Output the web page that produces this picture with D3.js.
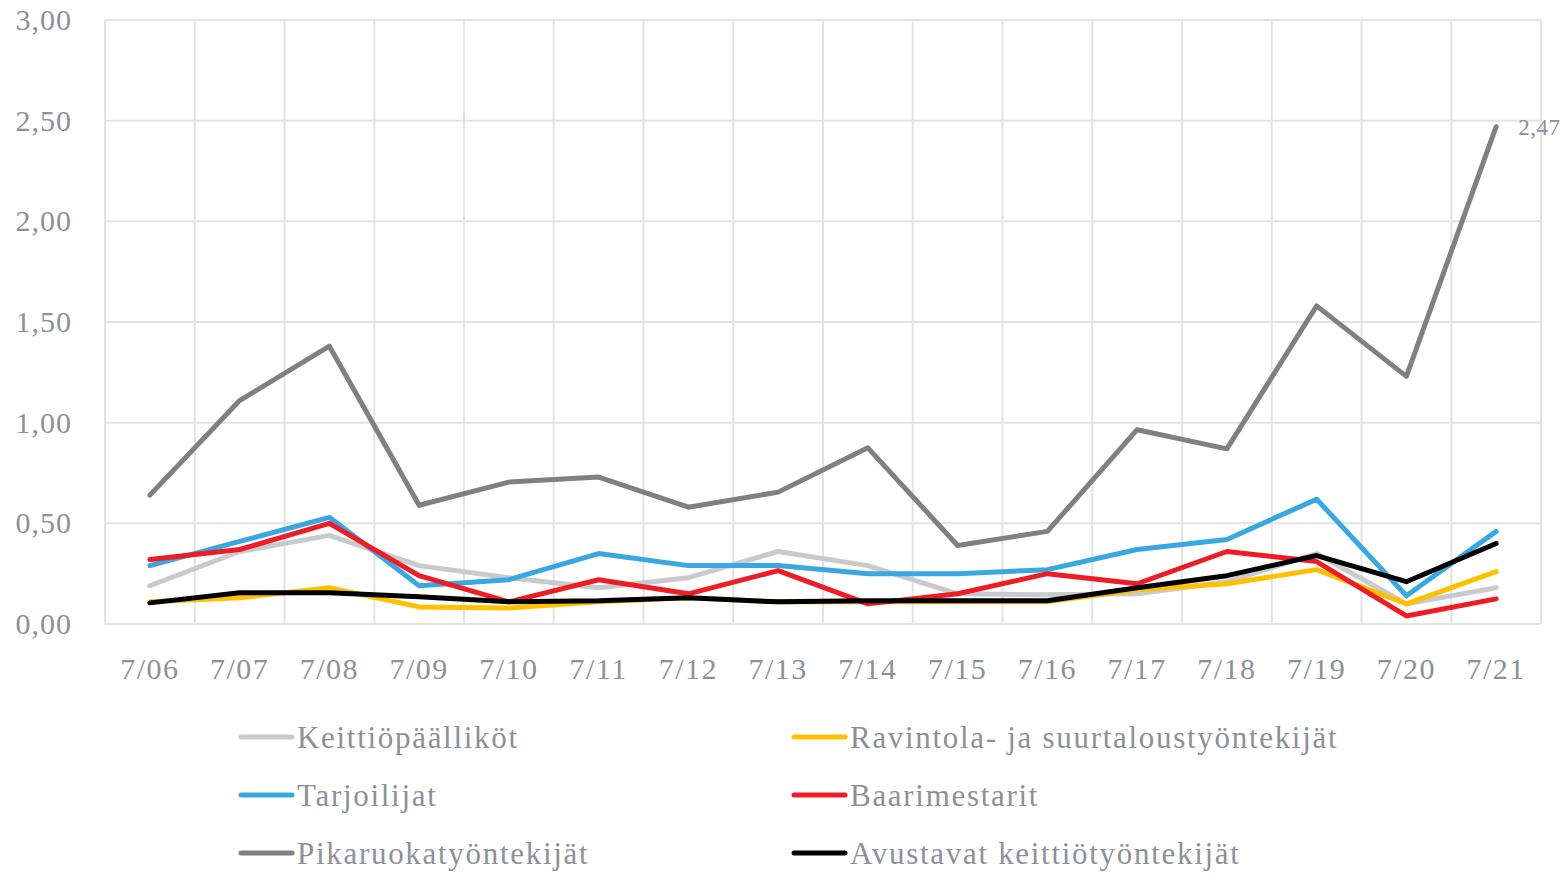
<!DOCTYPE html>
<html>
<head>
<meta charset="utf-8">
<script src="https://cdn.jsdelivr.net/npm/d3@7"></script>
<style>
  body { margin: 0; background: #fff; }
  svg text { font-family: "Palatino Linotype", "Book Antiqua", Palatino, "Liberation Serif", serif; fill: #8d9099; }
</style>
</head>
<body>
<div id="chart"></div>
<script>
const weeks = ["7/06", "7/07", "7/08", "7/09", "7/10", "7/11", "7/12", "7/13",
               "7/14", "7/15", "7/16", "7/17", "7/18", "7/19", "7/20", "7/21"];

const keittiopaallikot = [0.19, 0.36, 0.44, 0.29, 0.23, 0.18, 0.23, 0.36, 0.29, 0.15, 0.145, 0.15, 0.21, 0.35, 0.10, 0.18];
const ravintola = [0.11, 0.13, 0.18, 0.085, 0.08, 0.11, 0.13, 0.11, 0.11, 0.11, 0.11, 0.17, 0.20, 0.27, 0.10, 0.26];
const tarjoilijat = [0.29, 0.41, 0.53, 0.19, 0.22, 0.35, 0.29, 0.29, 0.25, 0.25, 0.27, 0.37, 0.42, 0.62, 0.14, 0.46];
const baarimestarit = [0.32, 0.37, 0.50, 0.24, 0.11, 0.22, 0.15, 0.265, 0.10, 0.15, 0.25, 0.20, 0.36, 0.31, 0.04, 0.125];
const pikaruoka = [0.64, 1.11, 1.38, 0.59, 0.705, 0.73, 0.58, 0.655, 0.875, 0.39, 0.46, 0.965, 0.87, 1.58, 1.23, 2.47];
const avustavat = [0.105, 0.155, 0.155, 0.135, 0.11, 0.115, 0.13, 0.11, 0.115, 0.115, 0.115, 0.18, 0.24, 0.34, 0.21, 0.40];

const series = [
    { name: "Keittiöpäälliköt", values: keittiopaallikot, color: "#c9cace" },
    { name: "Ravintola- ja suurtaloustyöntekijät", values: ravintola, color: "#ffc000" },
    { name: "Tarjoilijat", values: tarjoilijat, color: "#38a7e2" },
    { name: "Baarimestarit", values: baarimestarit, color: "#ee1c25" },
    { name: "Pikaruokatyöntekijät", values: pikaruoka, color: "#808080" },
    { name: "Avustavat keittiötyöntekijät", values: avustavat, color: "#000000" }
];

const yTicks = [0, 0.5, 1, 1.5, 2, 2.5, 3];

const width = 1563, height = 876;
const plot = { left: 105, right: 1541, top: 20, bottom: 624 };

const svg = d3.select("#chart").append("svg")
    .attr("width", width)
    .attr("height", height);

const x = d3.scaleBand()
    .domain(weeks)
    .range([plot.left, plot.right]);

const y = d3.scaleLinear()
    .domain([0, 3])
    .range([plot.bottom, plot.top]);

const fmt = (v) => d3.format(".2f")(v).replace(".", ",");

// grid
const grid = svg.append("g").attr("stroke", "#e3e3e3").attr("stroke-width", 2);
grid.selectAll("line.h")
    .data(yTicks)
    .join("line")
    .attr("class", "h")
    .attr("x1", plot.left).attr("x2", plot.right)
    .attr("y1", (d) => y(d)).attr("y2", (d) => y(d));
grid.selectAll("line.v")
    .data([...weeks.map((w) => x(w)), plot.right])
    .join("line")
    .attr("class", "v")
    .attr("x1", (d) => d).attr("x2", (d) => d)
    .attr("y1", plot.top).attr("y2", plot.bottom);

// y axis labels
const yAxis = svg.append("g")
    .attr("transform", `translate(${plot.left - 33},0)`)
    .call(d3.axisLeft(y).tickValues(yTicks).tickFormat(fmt).tickSize(0).tickPadding(0));
yAxis.select(".domain").remove();
yAxis.selectAll("text")
    .attr("font-size", 30)
    .attr("letter-spacing", 1)
    .attr("fill", "#8d9099")
    .attr("dy", "0.32em");

// x axis labels
const xAxis = svg.append("g")
    .attr("transform", `translate(0,${plot.bottom + 34})`)
    .call(d3.axisBottom(x).tickSize(0).tickPadding(0));
xAxis.select(".domain").remove();
xAxis.selectAll("text")
    .attr("font-size", 30)
    .attr("letter-spacing", 1.5)
    .attr("fill", "#8d9099")
    .attr("dy", "0.71em");

// lines
const line = d3.line()
    .x((_d, i) => x(weeks[i]) + x.bandwidth() / 2)
    .y((d) => y(d));

svg.append("g")
    .selectAll("path")
    .data(series)
    .join("path")
    .attr("d", (s) => line(s.values))
    .attr("fill", "none")
    .attr("stroke", (s) => s.color)
    .attr("stroke-width", 5)
    .attr("stroke-linejoin", "round")
    .attr("stroke-linecap", "round");

// data label on last point of Pikaruokatyöntekijät
const lastIdx = weeks.length - 1;
svg.append("text")
    .attr("x", x(weeks[lastIdx]) + x.bandwidth() / 2 + 22)
    .attr("y", y(pikaruoka[lastIdx]) + 8)
    .attr("font-size", 23)
    .attr("letter-spacing", 0.5)
    .attr("fill", "#8d9099")
    .text(fmt(pikaruoka[lastIdx]));

// legend
const legend = svg.append("g");
const legendItems = legend.selectAll("g")
    .data(series)
    .join("g")
    .attr("transform", (_d, i) => {
        const col = i % 2;
        const row = Math.floor(i / 2);
        return `translate(${241 + col * 553},${737 + row * 58})`;
    });
legendItems.append("line")
    .attr("x1", 0).attr("x2", 51)
    .attr("stroke", (d) => d.color)
    .attr("stroke-width", 5)
    .attr("stroke-linecap", "round");
legendItems.append("text")
    .attr("x", 56)
    .attr("dy", "0.35em")
    .attr("font-size", 31)
    .attr("letter-spacing", 1.7)
    .attr("fill", "#9a9ca3")
    .text((d) => d.name);
</script>
</body>
</html>
